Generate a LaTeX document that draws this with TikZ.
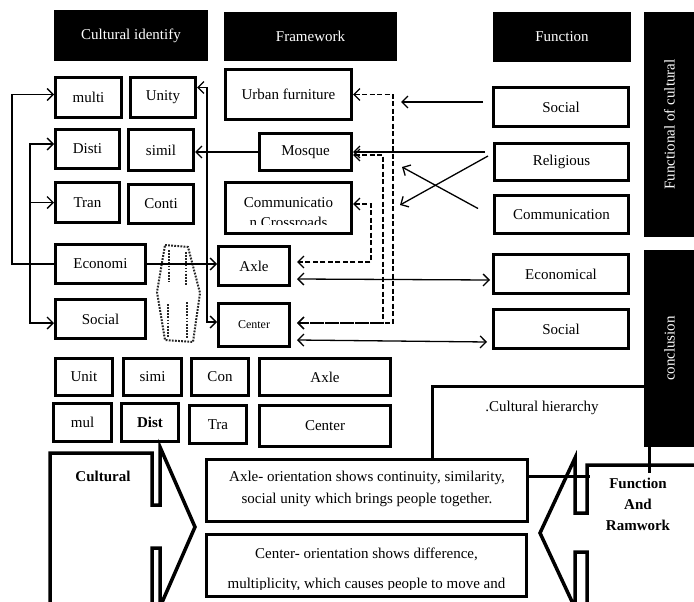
\documentclass[tikz,border=0pt]{standalone}
\usepackage{fontspec}
\setmainfont{Liberation Serif}
\usetikzlibrary{arrows.meta}
\newcommand{\dgfont}{\fontsize{15}{18}\selectfont}
\begin{document}
\begin{tikzpicture}[x=1pt,y=-1pt,font=\dgfont,
	hdr/.style={fill=black,text=white,inner sep=0pt},
	cbox/.style={draw,line width=3pt,inner sep=0pt,align=center},
	wh/.style 2 args={minimum width=#1pt,minimum height=#2pt},
	link/.style={line width=1.3pt,>={Straight Barb[length=6pt,width=12pt]}},
	dlink/.style={link,dash pattern=on 5pt off 2.5pt},
	dotln/.style={black!85,line width=2pt,dash pattern=on 1.8pt off 1.3pt},
	shp/.style={line width=3.5pt,line join=miter}]
	\clip (0,0) rectangle (694,602);
	% headers
	\node[hdr,wh={154}{51}] (hid) at (131,35.5) {Cultural identify};
	\node[hdr,wh={173}{49}] (hfw) at (310.5,36.5) {Framework};
	\node[hdr,wh={138}{50}] (hfn) at (562,37) {Function};
	\node[hdr,rotate=90,wh={225}{51}] (hfc) at (669.5,124.5) {Functional of cultural};
	\node[hdr,rotate=90,wh={197}{51}] (hcon) at (669.5,348.5) {conclusion};
	% cultural identify column
	\node[cbox,wh={66}{40}] (multi) at (88.5,97.5) {multi};
	\node[cbox,wh={65}{40}] (unity) at (163,97.5) {Unity};
	\node[cbox,wh={64}{39}] (disti) at (87.5,149) {Disti};
	\node[cbox,wh={65}{41}] (simil) at (161,150) {simil};
	\node[cbox,wh={64}{40}] (tran) at (87.5,202.5) {Tran};
	\node[cbox,wh={65}{39}] (conti) at (161,204) {Conti};
	\node[cbox,wh={90}{39}] (econ) at (100.5,264) {Economi};
	\node[cbox,wh={90}{39}] (socl) at (100.5,319) {Social};
	% framework column
	\node[cbox,wh={126}{50}] (urban) at (288.5,94.5) {Urban furniture};
	\node[cbox,wh={92}{37}] (mosque) at (305.5,152) {Mosque};
	\node[cbox,wh={126}{51}] (commx) at (288.5,208) {};
	\begin{scope}
		\clip (commx.north west) rectangle (351,224);
		\node[align=center,font=\fontsize{15}{20}\selectfont] (commxt) at (288.5,213) {Communicatio\\n Crossroads};
	\end{scope}
	\node[cbox,wh={71}{39}] (axlef) at (254,266) {Axle};
	\node[cbox,wh={71}{43},font=\fontsize{12}{14}\selectfont] (centf) at (254,325) {Center};
	% function column
	\node[cbox,wh={135}{39}] (socr) at (561,107) {Social};
	\node[cbox,wh={134}{37}] (relig) at (561.5,162) {Religious};
	\node[cbox,wh={134}{38}] (comm) at (561.5,214.5) {Communication};
	\node[cbox,wh={135}{39}] (econr) at (561,274) {Economical};
	\node[cbox,wh={135}{39}] (socr2) at (561,329) {Social};
	% lower rows
	\node[cbox,wh={57}{37}] (unit) at (84,377) {Unit};
	\node[cbox,wh={58}{37}] (simi) at (152.5,377) {simi};
	\node[cbox,wh={57}{37}] (con) at (220,377) {Con};
	\node[cbox,wh={131}{37}] (axleb) at (325,377) {Axle};
	\node[cbox,wh={58}{38}] (mul) at (82.5,422.5) {mul};
	\node[cbox,wh={57}{38},font=\dgfont\bfseries] (dist) at (150,422.5) {Dist};
	\node[cbox,wh={57}{38}] (tra) at (218,424.5) {Tra};
	\node[cbox,wh={131}{41}] (centb) at (325,426) {Center};
	% orientation boxes
	\node[cbox,wh={321}{62}] (axleor) at (367,490.5) {};
	\node[align=center,font=\fontsize{15}{22}\selectfont] (axleort) at (367,489) {Axle- orientation shows continuity, similarity,\\social unity which brings people together.};
	\node[cbox,wh={320}{62}] (centor) at (366.5,565.5) {};
	\begin{scope}
		\clip (centor.north west) rectangle (528,589);
		\node[align=center,font=\fontsize{15}{30}\selectfont] (centort) at (366.5,570) {Center- orientation shows difference,\\multiplicity, which causes people to move and};
	\end{scope}
	% cultural hierarchy
	\coordinate (hierA) at (432,458);
	\coordinate (hierB) at (644,386);
	\draw[line width=3pt] (hierA) |- (hierB);
	\node (hier) at (542,408) {.Cultural hierarchy};
	\coordinate (hconb) at (649,447);
	\draw[line width=3pt] (hconb) -- ++(0,26);
	\draw[line width=3pt] ([yshift=14pt]axleor.east) -- ++(61,0);
	% block arrows
	\draw[shp] (50,610) -- (50,453) -- (152,453) -- (152,505) -- (160,505) -- (160,447)
		-- (195,527) -- (160,607) -- (160,548) -- (152,548) -- (152,610);
	\node[font=\dgfont\bfseries] (cult) at (103,476) {Cultural};
	\draw[shp] (700,465) -- (587,465) -- (587,513) -- (575,513) -- (575,458)
		-- (540,533) -- (575,608) -- (575,552) -- (587,552) -- (587,610);
	\node[align=center,font=\fontsize{15}{21}\selectfont\bfseries] (fnr) at (638,504) {Function\\And\\Ramwork};
	% dotted shape
	\draw[dotln] (165,245) -- (188,247) -- (200,293) -- (193,342) -- (165,340) -- (157,292) -- cycle;
	\draw[dotln] (169,250) -- (169,282) (186,252) -- (186,286)
		(168,304) -- (168,337) (187,302) -- (187,339);
	% connectors, left
	\coordinate (busl) at (30,0);
	\coordinate (dA) at ([yshift=5pt]disti.west);
	\draw[link,->] (econ.west) -- ++(-42,0) |- ([yshift=3pt]multi.west);
	\draw[link,<->] (dA) -- (busl |- dA) |- ([yshift=-4pt]socl.west);
	\draw[link,->] (busl |- tran.west) -- (tran.west);
	\draw[link,<->] ([yshift=10pt]unity.east) -- ++(10,0) |- ([yshift=3pt]centf.west);
	\draw[link,->] (econ.east) -- (econ.east -| axlef.west);
	\draw[link,->] (mosque.west) -- (mosque.west -| simil.east);
	% connectors, right
	\coordinate (socB) at (401,102);
	\coordinate (xA) at (400,205);
	\coordinate (xB) at (402,167);
	\draw[link,->] ([xshift=-9pt,yshift=5pt]socr.west) -- (socB);
	\draw[link,->] ([xshift=-8pt,yshift=10pt]relig.west) -- (mosque.east);
	\draw[link,->] ([xshift=-5pt,yshift=6pt]relig.west) -- (xA);
	\draw[link,->] ([xshift=-15pt,yshift=6pt]comm.west) -- (xB);
	\draw[dlink,<->] (urban.east) -- ++(40,0) |- ([xshift=6pt,yshift=2pt]centf.east);
	\draw[dlink,<->] ([yshift=-3pt]mosque.east) -- ++(30,0) |- ([xshift=6pt,yshift=2pt]centf.east);
	\draw[dlink,<->] ([yshift=4pt]commx.east) -- ++(18,0) |- ([xshift=6pt,yshift=4pt]axlef.east);
	\draw[link,<->] ([xshift=6pt,yshift=-13pt]axlef.east) -- ([xshift=-2pt,yshift=-6pt]econr.west);
	\draw[link,<->] ([xshift=6pt,yshift=-15pt]centf.east) -- ([xshift=-5pt,yshift=-13pt]socr2.west);
\end{tikzpicture}
\end{document}
